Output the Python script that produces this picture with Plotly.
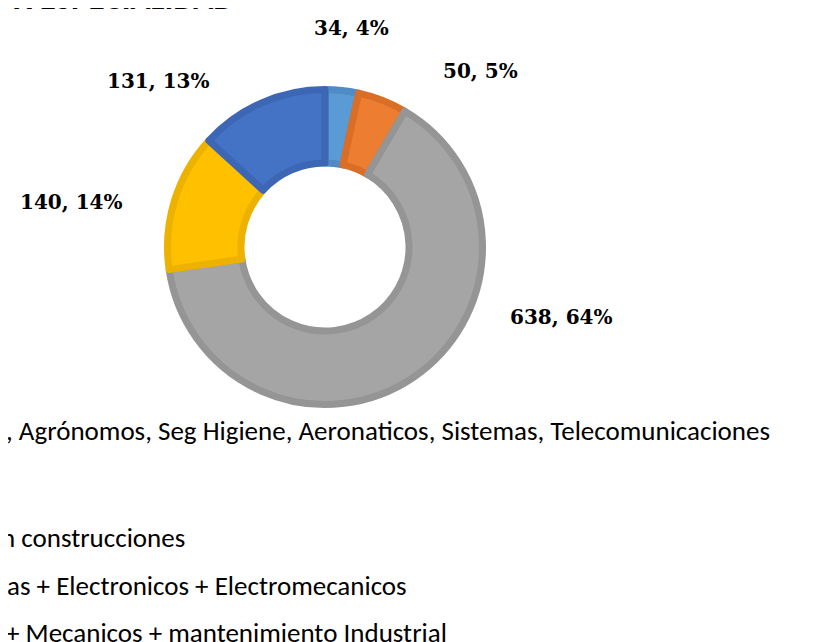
import plotly.graph_objects as go

W, H = 837, 642

# ---- data ----
categories = [
    ", Agrónomos, Seg Higiene, Aeronaticos, Sistemas, Telecomunicaciones",
    "",
    "n construcciones",
    "as + Electronicos + Electromecanicos",
    "+ Mecanicos + mantenimiento Industrial",
]
values = [34, 50, 638, 140, 131]
percent_labels = ["4%", "5%", "64%", "14%", "13%"]
title_text = "X ESPECIALIDAD"

# ---- styles ----
fill_colors = ["#5B9BD5", "#ED7D31", "#A5A5A5", "#FFC000", "#4472C4"]
edge_colors = ["#4F8CC6", "#DB6E26", "#959595", "#EDB100", "#3D67B4"]

cx, cy, r_out = 317, 239, 161
lw = 7
r = r_out - lw / 2
hole = (80.5 + lw / 2) / r

def px(x):
    return x / W

def py(y):
    return 1 - y / H

fig = go.Figure(go.Pie(
    labels=[f"s{i}" for i in range(len(values))],
    values=values,
    sort=False,
    direction="clockwise",
    rotation=0,
    hole=hole,
    textinfo="none",
    hoverinfo="label+value+percent",
    marker=dict(colors=fill_colors, line=dict(color=edge_colors, width=lw)),
    domain=dict(x=[px(cx - r), px(cx + r)], y=[py(cy + r), py(cy - r)]),
    showlegend=False,
))

# data-label positions (pixel centers)
label_pos = [(343, 20), (472, 63), (553, 309), (64, 194), (150, 73)]
ann = []
for (x, y), v, p in zip(label_pos, values, percent_labels):
    ann.append(dict(
        x=px(x), y=py(y), xref="paper", yref="paper",
        text=f"{v}, {p}", showarrow=False,
        xanchor="center", yanchor="middle",
        font=dict(family="DejaVu Serif", size=20, color="#000000", weight="bold"),
    ))

# legend texts (left part cropped off in reference)
legend_y = [422, None, 529, 577, 624]
legend_shift = [-4, 0, -9, -3, -4]
for txt, y, s in zip(categories, legend_y, legend_shift):
    if y is None or not txt:
        continue
    ann.append(dict(
        x=0, y=py(y), xref="paper", yref="paper",
        text=txt, showarrow=False, xanchor="left", yanchor="middle", xshift=s,
        font=dict(family="Carlito, Lato, sans-serif", size=27, color="#000000"),
    ))

# title (mostly cropped above the top edge)
ann.append(dict(
    x=px(4), y=1, xref="paper", yref="paper",
    text=f"<b>{title_text}</b>", showarrow=False,
    xanchor="left", yanchor="bottom", yshift=-12,
    font=dict(family="Carlito, Lato, sans-serif", size=33, color="#000000"),
))

fig.update_layout(
    width=W, height=H,
    margin=dict(l=0, r=0, t=0, b=0),
    paper_bgcolor="#FFFFFF", plot_bgcolor="#FFFFFF",
    annotations=ann,
)

fig.write_html("out.html")
